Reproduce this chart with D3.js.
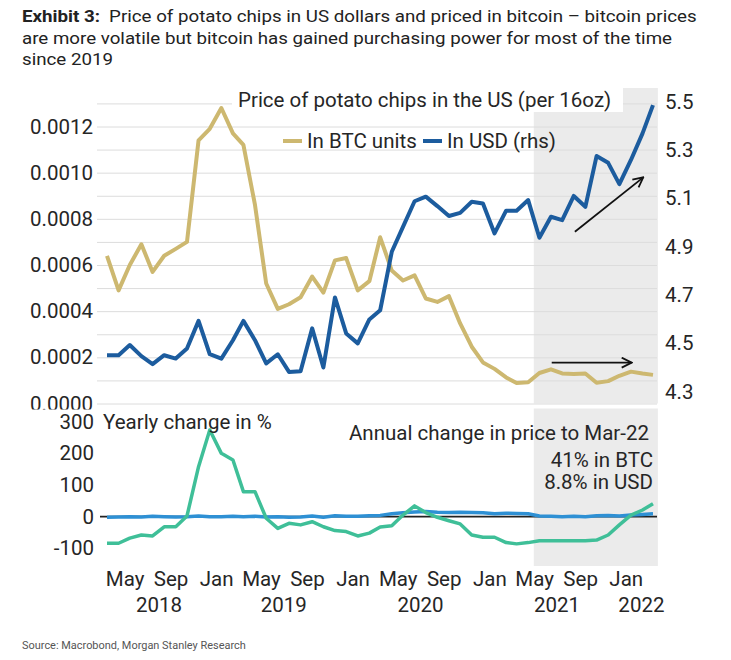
<!DOCTYPE html>
<html><head><meta charset="utf-8">
<script src="https://cdn.jsdelivr.net/npm/d3@7"></script>
<style>body{margin:0;background:#fff} text{font-family:Roboto,"Noto Sans",sans-serif}</style>
</head><body><svg id="c" width="731" height="660"></svg>
<script>
// ---------------- data ----------------
const months = ["2018-03","2018-04","2018-05","2018-06","2018-07","2018-08","2018-09","2018-10","2018-11","2018-12",
"2019-01","2019-02","2019-03","2019-04","2019-05","2019-06","2019-07","2019-08","2019-09","2019-10","2019-11","2019-12",
"2020-01","2020-02","2020-03","2020-04","2020-05","2020-06","2020-07","2020-08","2020-09","2020-10","2020-11","2020-12",
"2021-01","2021-02","2021-03","2021-04","2021-05","2021-06","2021-07","2021-08","2021-09","2021-10","2021-11","2021-12",
"2022-01","2022-02","2022-03"];
const btcPrice = [0.00064,0.00049,0.00060,0.00069,0.00057,0.00064,0.00067,0.00070,0.00114,0.00119,
0.00128,0.00117,0.00112,0.00086,0.00052,0.00041,0.00043,0.00046,0.00055,0.00048,0.00062,0.00063,
0.00049,0.00053,0.00072,0.000576,0.000533,0.000555,0.000455,0.00044,0.000465,0.000347,0.000246,0.000178,
0.00015,0.000113,0.000089,0.000092,0.000132,0.000148,0.00013,0.000128,0.00013,0.00009,0.000097,0.00012,
0.000138,0.00013,0.000124];
const usdPrice = [4.451,4.451,4.493,4.447,4.414,4.451,4.437,4.479,4.593,4.455,
4.437,4.513,4.593,4.513,4.417,4.455,4.382,4.385,4.562,4.40,4.69,4.541,
4.50,4.599,4.637,4.879,4.982,5.088,5.107,5.068,5.027,5.04,5.086,5.079,
4.955,5.049,5.049,5.093,4.937,5.024,5.01,5.11,5.065,5.275,5.247,5.159,
5.259,5.369,5.486];
const btcYoY = [-84,-84,-68,-58,-61,-32,-32,2,158,274,
200,179,79,79,-5,-37,-21,-26,-16,-32,-44,-47,
-61,-52,-33,-29,5,34,13,-2,-13,-23,-58,-65,
-65,-82,-86,-82,-76,-76,-76,-76,-76,-74,-58,-26,
5,21,41];
const usdYoY = [-2,-1,0,-1,1,0,-1,0,2,0,
0,1,0,1,-1,0,-2,-1,2,-2,3,1,
1,3,4,9,12,15,16,14,13,14,13,12,
9,11,10,9,2,1,0,1,0,3,4,2,
5,7,8.8];
const leftTicks = [0,0.0002,0.0004,0.0006,0.0008,0.0010,0.0012];
const gridValues = [0,0.0001,0.0002,0.0003,0.0004,0.0005,0.0006,0.0007,0.0008,0.0009,0.0010,0.0011,0.0012,0.0013];
const rightTicks = [4.3,4.5,4.7,4.9,5.1,5.3,5.5];
const bottomTicks = [-100,0,100,200,300];
const monthTicks = ["2018-05-01","2018-09-01","2019-01-01","2019-05-01","2019-09-01","2020-01-01","2020-05-01","2020-09-01","2021-01-01","2021-05-01","2021-09-01","2022-01-01"];
const yearLabels = ["2018","2019","2020","2021","2022"];
const yearLabelDates = ["2018-08-01","2019-07-01","2020-07-01","2021-07-01","2022-02-12"];
const shadePeriod = ["2021-04-30","2022-03-28"];
const seriesNames = ["In BTC units","In USD (rhs)"];

// ---------------- setup ----------------
const pDay = d3.timeParse("%Y-%m-%d");
const pMon = s => pDay(s + "-15");
const dates = months.map(pMon);
const svg = d3.select("#c");
const TXT = "#262626";
const FS = 20.5;
const gold = "#CDB870", blueD = "#1C5C9E", blueL = "#2E90D4", green = "#3FBF98";

const x = d3.scaleTime().domain([pMon("2018-03"), pMon("2022-03")]).range([107, 653]);
const yL = d3.scaleLinear().domain([0, 0.0012]).range([403.5, 126.5]);
const yR = d3.scaleLinear().domain([4.3, 5.5]).range([391.7, 101.7]);
const yB = d3.scaleLinear().domain([-100, 300]).range([548.3, 421.7]);
const plotL = 97, plotR = 657;

// ---------------- title ----------------
const t1 = svg.append("text").attr("x", 22).attr("y", 22).attr("font-size", 16.5).attr("fill", "#222");
t1.append("tspan").attr("font-weight", 700).text("Exhibit 3:");
t1.append("tspan").attr("dx", 8).text("Price of potato chips in US dollars and priced in bitcoin \u2013 bitcoin prices");
const t2 = svg.append("text").attr("x", 22).attr("y", 44).attr("font-size", 16.5).attr("fill", "#222")
  .text("are more volatile but bitcoin has gained purchasing power for most of the time");
const t3 = svg.append("text").attr("x", 22).attr("y", 65).attr("font-size", 16.5).attr("fill", "#222")
  .text("since 2019");
const sc = 666 / t1.node().getComputedTextLength();
[t1, t2, t3].forEach(t => t.attr("transform", `translate(22,0) scale(${sc},1) translate(-22,0)`));

// ---------------- top panel ----------------
const topG = svg.append("g");
topG.append("rect").attr("x", x(pDay(shadePeriod[0]))).attr("y", 88)
  .attr("width", x(pDay(shadePeriod[1])) - x(pDay(shadePeriod[0]))).attr("height", 403.5 - 88).attr("fill", "#ebebeb");

const grid = topG.append("g").attr("transform", `translate(${plotL},0)`)
  .call(d3.axisLeft(yL).tickValues(gridValues).tickSize(-(plotR - plotL)).tickFormat(""));
grid.select(".domain").remove();
grid.selectAll("line").attr("stroke", "#dcdcdc").attr("stroke-width", 1);

const la = topG.append("g").attr("transform", `translate(${plotL},0)`)
  .call(d3.axisLeft(yL).tickValues(leftTicks).tickSize(0).tickPadding(4).tickFormat(d3.format(".4f")));
la.select(".domain").remove();
la.selectAll("text").attr("font-size", FS).attr("fill", TXT).attr("font-family", "Roboto");

const ra = topG.append("g").attr("transform", `translate(${plotR},0)`)
  .call(d3.axisRight(yR).tickValues(rightTicks).tickSize(0).tickPadding(8).tickFormat(d3.format(".1f")));
ra.select(".domain").remove();
ra.selectAll("text").attr("font-size", FS).attr("fill", TXT).attr("font-family", "Roboto");

const lineL = d3.line().x((d, i) => x(dates[i])).y(d => yL(d));
const lineR = d3.line().x((d, i) => x(dates[i])).y(d => yR(d));
topG.append("path").datum(btcPrice).attr("d", lineL).attr("fill", "none").attr("stroke", gold)
  .attr("stroke-width", 4).attr("stroke-linejoin", "round");
topG.append("path").datum(usdPrice).attr("d", lineR).attr("fill", "none").attr("stroke", blueD)
  .attr("stroke-width", 4).attr("stroke-linejoin", "round");

// arrows
const defs = svg.append("defs");
defs.append("marker").attr("id", "ah").attr("viewBox", "0 0 12 12").attr("refX", 11).attr("refY", 6)
  .attr("markerWidth", 12).attr("markerHeight", 12).attr("orient", "auto").attr("markerUnits", "userSpaceOnUse")
  .append("path").attr("d", "M1,1 L11,6 L1,11").attr("fill", "none").attr("stroke", "#111").attr("stroke-width", 1.8);
topG.append("line").attr("x1", x(pDay("2021-08-18"))).attr("y1", yR(4.962))
  .attr("x2", x(pDay("2022-02-17"))).attr("y2", yR(5.187))
  .attr("stroke", "#111").attr("stroke-width", 1.8).attr("marker-end", "url(#ah)");
topG.append("line").attr("x1", x(pDay("2021-06-17"))).attr("y1", yL(0.000177))
  .attr("x2", x(pDay("2022-01-17"))).attr("y2", yL(0.000177))
  .attr("stroke", "#111").attr("stroke-width", 1.8).attr("marker-end", "url(#ah)");

// legend
const lg = topG.append("g");
lg.append("rect").attr("x", 232).attr("y", 88).attr("width", 391).attr("height", 24).attr("fill", "#fff");
lg.append("text").attr("x", 238).attr("y", 107).attr("font-size", FS).attr("fill", TXT)
  .text("Price of potato chips in the US (per 16oz)");
const legItems = [{name: seriesNames[0], color: gold, x: 283}, {name: seriesNames[1], color: blueD, x: 423}];
legItems.forEach(it => {
  lg.append("line").attr("x1", it.x).attr("x2", it.x + 19).attr("y1", 141).attr("y2", 141)
    .attr("stroke", it.color).attr("stroke-width", 4);
  lg.append("text").attr("x", it.x + 24).attr("y", 148).attr("font-size", FS).attr("fill", TXT).text(it.name);
});

// ---------------- bottom panel ----------------
const bot = svg.append("g");
bot.append("rect").attr("x", 0).attr("y", 409.5).attr("width", 731).attr("height", 251).attr("fill", "#fff");
bot.append("rect").attr("x", x(pDay(shadePeriod[0]))).attr("y", 408.5)
  .attr("width", x(pDay(shadePeriod[1])) - x(pDay(shadePeriod[0]))).attr("height", 566 - 408.5).attr("fill", "#ebebeb");

const ba = bot.append("g").attr("transform", `translate(${plotL},0)`)
  .call(d3.axisLeft(yB).tickValues(bottomTicks).tickSize(0).tickPadding(3).tickFormat(d => String(d)));
ba.select(".domain").remove();
ba.selectAll("text").attr("font-size", FS).attr("fill", TXT).attr("font-family", "Roboto");

bot.append("line").attr("x1", 100).attr("x2", plotR).attr("y1", yB(0)).attr("y2", yB(0))
  .attr("stroke", "#222").attr("stroke-width", 1.6);

const lineB = d3.line().x((d, i) => x(dates[i])).y(d => yB(d));
bot.append("path").datum(usdYoY).attr("d", lineB).attr("fill", "none").attr("stroke", blueL)
  .attr("stroke-width", 3.5).attr("stroke-linejoin", "round");
bot.append("path").datum(btcYoY).attr("d", lineB).attr("fill", "none").attr("stroke", green)
  .attr("stroke-width", 3.5).attr("stroke-linejoin", "round");

bot.append("text").attr("x", 103).attr("y", 428.5).attr("font-size", FS).attr("fill", TXT).text("Yearly change in %");
const notes = ["Annual change in price to Mar-22", "41% in BTC", "8.8% in USD"];
const noteY = [440, 467, 489];
const noteX = [649, 653, 653];
notes.forEach((n, i) => bot.append("text").attr("x", noteX[i]).attr("y", noteY[i]).attr("text-anchor", "end")
  .attr("font-size", FS).attr("fill", TXT).text(n));

// x axis
const xa = bot.append("g").attr("transform", "translate(0,571)")
  .call(d3.axisBottom(x).tickValues(monthTicks.map(pDay)).tickSize(0).tickPadding(0).tickFormat(d3.timeFormat("%b")));
xa.select(".domain").remove();
xa.selectAll("text").attr("font-size", FS).attr("fill", TXT).attr("font-family", "Roboto");
bot.selectAll(".yr").data(yearLabels).enter().append("text").attr("class", "yr")
  .attr("x", (d, i) => x(pDay(yearLabelDates[i]))).attr("y", 612).attr("text-anchor", "middle")
  .attr("font-size", FS).attr("fill", TXT).text(d => d);

// source
const src = svg.append("text").attr("x", 22).attr("y", 649).attr("font-size", 11).attr("fill", "#555")
  .text("Source: Macrobond, Morgan Stanley Research");
const ss = 224 / src.node().getComputedTextLength();
src.attr("transform", `translate(22,0) scale(${ss},1) translate(-22,0)`);
</script></body></html>
